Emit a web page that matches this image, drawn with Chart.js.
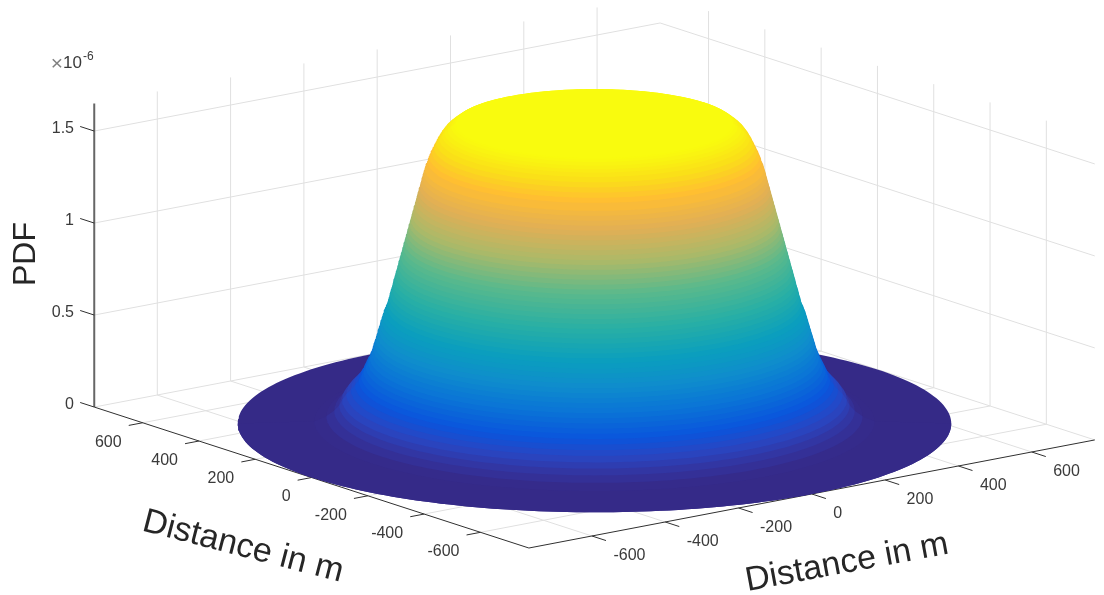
<!DOCTYPE html>
<html>
<head>
<meta charset="utf-8">
<style>html,body{margin:0;padding:0;background:#fff}canvas{display:block}</style>
<script src="https://cdn.jsdelivr.net/npm/chart.js@4/dist/chart.umd.js"></script>
</head>
<body>
<canvas id="c" width="1104" height="595"></canvas>
<script>
// ---- data ----
const distanceTicks = [-600, -400, -200, 0, 200, 400, 600];
const pdfTicks = [0, 0.5, 1, 1.5];
const pdfTickLabels = ['0', '0.5', '1', '1.5'];
// surface of revolution: ring radius in m, ring height in 1e-6
const ringRadius = [772, 606, 580, 563, 552, 546, 537, 527, 518, 510, 505, 500, 495, 490, 486, 482, 479, 476, 473, 470, 467, 464, 461, 458, 454, 449.5, 447, 444, 441.5, 438.5, 436, 433, 430.5, 427.5, 425, 422, 419.5, 416.5, 414, 411, 408.5, 405.5, 403, 400, 397.5, 394.5, 392, 389, 386.5, 383.5, 381, 378, 375.5, 372.5, 370, 367, 361, 357, 352, 347, 342, 336, 330, 325, 318, 310, 304, 300];
const ringPdf = [0, 0.012, 0.04, 0.07, 0.10, 0.13, 0.16, 0.185, 0.21, 0.235, 0.26, 0.285, 0.31, 0.335, 0.36, 0.385, 0.41, 0.435, 0.46, 0.485, 0.51, 0.535, 0.56, 0.585, 0.61, 0.635, 0.66, 0.685, 0.71, 0.735, 0.76, 0.785, 0.81, 0.835, 0.86, 0.885, 0.91, 0.935, 0.96, 0.985, 1.01, 1.035, 1.06, 1.085, 1.11, 1.135, 1.16, 1.185, 1.21, 1.235, 1.26, 1.285, 1.31, 1.335, 1.36, 1.385, 1.425, 1.45, 1.475, 1.50, 1.525, 1.55, 1.57, 1.585, 1.60, 1.615, 1.625, 1.63];
const colorStopsT = [0, 0.018, 0.055, 0.095, 0.145, 0.22, 0.30, 0.38, 0.48, 0.59, 0.69, 0.79, 0.88, 0.94, 1];
const colorStopsRGB = [[53,42,135],[53,43,140],[50,55,165],[40,70,195],[10,85,220],[10,115,215],[15,140,205],[10,158,190],[40,175,165],[90,185,140],[170,185,105],[225,175,85],[255,190,50],[250,222,25],[249,251,14]];

// ---- axis limits and view ----
const distanceLimit = 772, pdfTop = 1.65, pdfMax = 1.63;
const view = {x0: 594.5, xa: -0.2815, xb: 0.3665, y0: 423.5, ya: -0.0913, yb: -0.07, yz: -184};
const project = (a, b, z) => ({
  x: view.x0 + view.xa * a + view.xb * b,
  y: view.y0 + view.ya * a + view.yb * b + view.yz * z
});

function ringColor(z) {
  const t = z / pdfMax;
  let i = 0;
  while (i < colorStopsT.length - 2 && t > colorStopsT[i + 1]) i++;
  const f = (t - colorStopsT[i]) / (colorStopsT[i + 1] - colorStopsT[i]);
  const c = colorStopsRGB[i].map((v, k) => Math.round(v + (colorStopsRGB[i + 1][k] - v) * f));
  return `rgb(${c[0]},${c[1]},${c[2]})`;
}

const painted = [];
function addLine(pts, color, width) {
  painted.push({data: pts, borderColor: color, borderWidth: width, backgroundColor: color,
    showLine: true, pointRadius: 0, fill: false, tension: 0});
}
function addPolygon(pts, color) {
  painted.push({data: pts, borderColor: color, borderWidth: 0, backgroundColor: color,
    showLine: true, pointRadius: 0, fill: 'shape', tension: 0});
}
const GRID = '#e0e0e0', AXIS = '#303030';
const L = distanceLimit;

// floor grid, walls
for (const t of distanceTicks) {
  addLine([project(t, -L, 0), project(t, L, 0)], GRID, 1);
  addLine([project(-L, t, 0), project(L, t, 0)], GRID, 1);
  addLine([project(L, t, 0), project(L, t, pdfTop)], GRID, 1);
  addLine([project(t, L, 0), project(t, L, pdfTop)], GRID, 1);
}
for (const z of pdfTicks) {
  addLine([project(L, -L, z), project(L, L, z), project(-L, L, z)], GRID, 1);
}
// axes and ticks
addLine([project(L, -L, 0), project(L, -L, pdfTop)], '#666666', 2);
addLine([project(L, -L, 0), project(-L, -L, 0), project(-L, L, 0)], AXIS, 1);
for (const t of distanceTicks) {
  addLine([project(t, -L, 0), project(t, -L - 38, 0)], AXIS, 1);
  addLine([project(-L, t, 0), project(-L - 50, t, 0)], AXIS, 1);
}
for (const z of pdfTicks) {
  addLine([project(L, -L, z), project(L + 50, -L, z)], AXIS, 1);
}

// Unit vectors in the (a,b) floor that move purely horizontally / vertically on screen.
const hx = Math.hypot(view.xa, view.xb), hy = Math.hypot(view.ya, view.yb);
const ux = [view.xa / hx, view.xb / hx], uy = [view.ya / hy, view.yb / hy];
function arc(r, z, from, to, steps) {
  const pts = [];
  for (let k = 0; k <= steps; k++) {
    const th = from + (to - from) * k / steps;
    const ca = Math.cos(th), sa = Math.sin(th);
    pts.push(project(r * (ca * ux[0] + sa * uy[0]), r * (ca * ux[1] + sa * uy[1]), z));
  }
  return pts;
}
const n = ringRadius.length;
// base disc
addPolygon(arc(ringRadius[0], ringPdf[0], 0, 2 * Math.PI, 240), ringColor(0));
// bands between successive rings, outermost first
for (let i = 0; i < n - 1; i++) {
  // angles 0..PI are the half of a ring nearest the viewer, PI..2PI the far half
  const near = arc(ringRadius[i], ringPdf[i], 0, Math.PI, 120);
  const far = arc(ringRadius[i + 1], ringPdf[i + 1], Math.PI, 2 * Math.PI, 120);
  const pts = near.concat(far);
  pts.push(near[0]);
  addPolygon(pts, ringColor((ringPdf[i] + ringPdf[i + 1]) / 2));
}
// plateau
addPolygon(arc(ringRadius[n - 1], ringPdf[n - 1], 0, 2 * Math.PI, 180), ringColor(ringPdf[n - 1]));
painted.forEach((d, i) => { d.order = painted.length - i; });

const TEXT = '#3a3a3a', TITLE = '#262626';
const FONT = '"Liberation Sans", Arial, sans-serif';
const textPlugin = {
  id: 'axisText',
  afterDraw(chart) {
    const {ctx, scales: {x: sx, y: sy}} = chart;
    const px = p => ({x: sx.getPixelForValue(p.x), y: sy.getPixelForValue(p.y)});
    const put = (s, x, y, size, color, align, rot) => {
      ctx.save();
      ctx.translate(x, y);
      if (rot) ctx.rotate(rot * Math.PI / 180);
      ctx.font = size + 'px ' + FONT;
      ctx.fillStyle = color;
      ctx.textAlign = align || 'center';
      ctx.textBaseline = 'middle';
      ctx.fillText(s, 0, 0);
      ctx.restore();
    };
    for (const t of distanceTicks) {
      const p = px(project(t, -L, 0));
      put(String(t), p.x - 21, p.y + 19.5, 16, TEXT, 'right');
      const q = px(project(-L, t, 0));
      put(String(t), q.x + 21.5, q.y + 20, 16, TEXT, 'left');
    }
    pdfTicks.forEach((z, i) => {
      const p = px(project(L, -L, z));
      put(pdfTickLabels[i], 74, p.y - 2.5, 16, TEXT, 'right');
    });
    put('×', 57, 64, 21, '#808080', 'center');
    put('10', 63, 63, 17, TEXT, 'left');
    put('-6', 83, 57, 12, TEXT, 'left');
    put('PDF', 26, 254, 32, TITLE, 'center', -90);
    put('Distance in m', 243, 547, 34, TITLE, 'center', 14.5);
    put('Distance in m', 847, 563, 34, TITLE, 'center', -10.5);
  }
};

new Chart(document.getElementById('c'), {
  type: 'scatter',
  data: {datasets: painted},
  plugins: [textPlugin],
  options: {
    responsive: false,
    animation: false,
    layout: {padding: 0},
    plugins: {legend: {display: false}, tooltip: {enabled: false}, title: {display: false}},
    events: [],
    scales: {
      x: {type: 'linear', min: 0, max: 1104, display: false},
      y: {type: 'linear', min: 0, max: 595, reverse: true, display: false}
    }
  }
});
</script>
</body>
</html>
